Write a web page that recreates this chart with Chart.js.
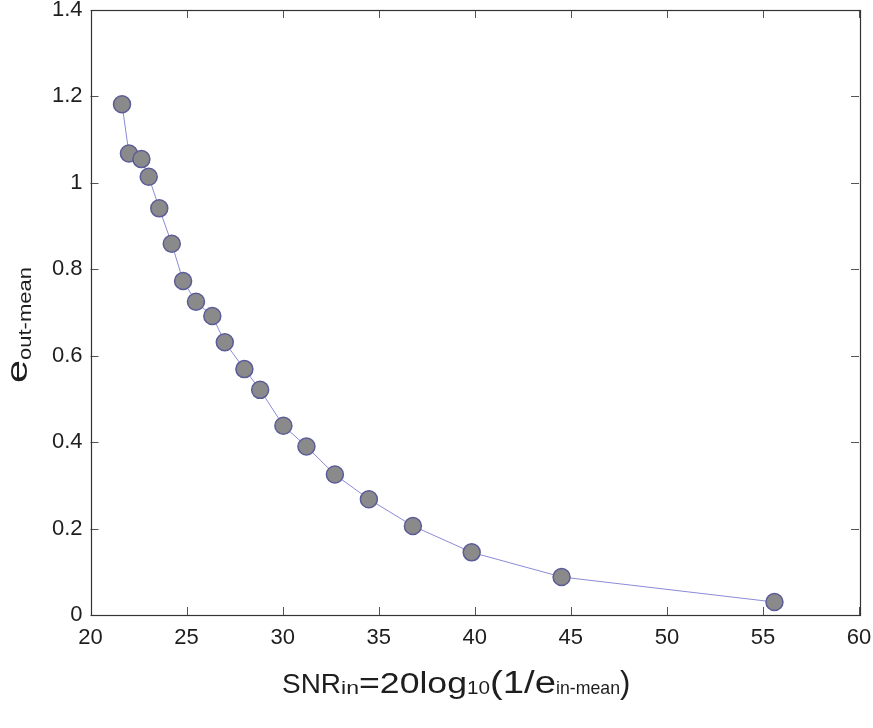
<!DOCTYPE html>
<html>
<head>
<meta charset="utf-8">
<script src="https://cdn.jsdelivr.net/npm/chart.js@4/dist/chart.umd.min.js"></script>
<style>
html,body{margin:0;padding:0;background:#fff;}
#c{display:block;}
</style>
</head>
<body>
<canvas id="c" width="873" height="728"></canvas>
<script>
// Data
const snrIn = [21.64, 22.0, 22.65, 23.03, 23.58, 24.23, 24.82, 25.49, 26.34, 26.99, 28.01, 28.83, 30.04, 31.24, 32.72, 34.49, 36.78, 39.84, 44.52, 55.6];
const eOutMean = [1.182, 1.068, 1.055, 1.014, 0.941, 0.859, 0.773, 0.725, 0.692, 0.631, 0.569, 0.521, 0.438, 0.390, 0.325, 0.268, 0.206, 0.145, 0.088, 0.030];
const xTickValues = [20, 25, 30, 35, 40, 45, 50, 55, 60];
const xTickLabels = ["20", "25", "30", "35", "40", "45", "50", "55", "60"];
const yTickValues = [0, 0.2, 0.4, 0.6, 0.8, 1, 1.2, 1.4];
const yTickLabels = ["0", "0.2", "0.4", "0.6", "0.8", "1", "1.2", "1.4"];

const FONT = '"Liberation Sans", Arial, Helvetica, sans-serif';
const TEXT = '#1e1e1e';

const points = snrIn.map((x, i) => ({x: x, y: eOutMean[i]}));

// Draw a run of text segments, each starting at a given offset; stretched ones are scaled horizontally to reach the next one
function drawRun(ctx, segs, endPos) {
  segs.forEach((s, i) => {
    ctx.font = s.size + 'px ' + FONT;
    const target = (i + 1 < segs.length ? segs[i + 1].pos : endPos) - s.pos;
    const nat = ctx.measureText(s.text).width;
    const k = s.stretch ? Math.min(s.maxK || 1.3, Math.max(0.85, target / nat)) : 1;
    ctx.save();
    ctx.translate(s.pos, s.dy || 0);
    ctx.scale(k, 1);
    ctx.fillText(s.text, 0, 0);
    ctx.restore();
  });
}

const framePlugin = {
  id: 'frame',
  beforeDatasetsDraw(chart) {
    const {ctx, chartArea: a, scales} = chart;
    ctx.save();
    ctx.strokeStyle = '#555';
    ctx.lineWidth = 1;
    const tl = 8;
    ctx.beginPath();
    xTickValues.forEach(v => {
      const px = Math.round(scales.x.getPixelForValue(v)) + 0.5;
      ctx.moveTo(px, a.bottom); ctx.lineTo(px, a.bottom - tl);
      ctx.moveTo(px, a.top); ctx.lineTo(px, a.top + tl);
    });
    yTickValues.forEach(v => {
      const py = Math.round(scales.y.getPixelForValue(v)) + 0.5;
      ctx.moveTo(a.left, py); ctx.lineTo(a.left + tl, py);
      ctx.moveTo(a.right, py); ctx.lineTo(a.right - tl, py);
    });
    ctx.stroke();
    ctx.strokeStyle = '#333';
    ctx.lineWidth = 1.2;
    ctx.strokeRect(Math.round(a.left) + 0.5, Math.round(a.top) + 0.5, Math.round(a.right - a.left), Math.round(a.bottom - a.top));
    ctx.restore();
  },
  afterDraw(chart) {
    const ctx = chart.ctx;
    ctx.save();
    ctx.fillStyle = TEXT;
    ctx.textBaseline = 'alphabetic';
    ctx.textAlign = 'left';
    // X title: SNR_in=20log_10(1/e_in-mean)
    ctx.save();
    ctx.translate(0, 693);
    drawRun(ctx, [
      {text: 'SNR', size: 28, pos: 282, stretch: true},
      {text: 'in', size: 19, pos: 341, dy: 1, stretch: true},
      {text: '=20log', size: 30, pos: 359, stretch: true},
      {text: '10', size: 19, pos: 467, dy: 1, stretch: true},
      {text: '(1/e', size: 31, pos: 490, stretch: true},
      {text: 'in-mean', size: 19, pos: 556, dy: 1, stretch: true},
      {text: ')', size: 31, pos: 620}
    ], 631);
    ctx.restore();
    // Y title: e_out-mean (rotated)
    ctx.translate(27, 0);
    ctx.rotate(-Math.PI / 2);
    drawRun(ctx, [
      {text: 'e', size: 30, pos: -383, stretch: true, maxK: 1.45},
      {text: 'out-mean', size: 19, pos: -360, dy: 4, stretch: true}
    ], -267);
    ctx.restore();
  }
};

new Chart(document.getElementById('c'), {
  type: 'scatter',
  data: {
    datasets: [{
      data: points,
      showLine: true,
      borderColor: '#8a8ad8',
      borderWidth: 1,
      pointRadius: 8.5,
      pointHoverRadius: 8.5,
      pointBackgroundColor: '#8a8a8a',
      pointBorderColor: '#5c5c98',
      pointBorderWidth: 1.5,
      tension: 0
    }]
  },
  options: {
    responsive: false,
    animation: false,
    events: [],
    layout: { padding: { left: 0, top: 9, right: 14, bottom: 0 } },
    plugins: { legend: { display: false }, tooltip: { enabled: false } },
    scales: {
      x: {
        type: 'linear', min: 20, max: 60,
        afterBuildTicks: s => { s.ticks = xTickValues.map(v => ({value: v})); },
        afterFit: s => { s.height = 113; s.paddingLeft = 0; s.paddingRight = 0; },
        grid: { display: false, drawTicks: false },
        border: { display: false },
        ticks: {
          padding: 10,
          color: TEXT,
          font: { family: FONT, size: 22 },
          maxRotation: 0,
          callback: (v) => { const i = xTickValues.indexOf(v); return i >= 0 ? xTickLabels[i] : ''; }
        }
      },
      y: {
        type: 'linear', min: 0, max: 1.4,
        afterBuildTicks: s => { s.ticks = yTickValues.map(v => ({value: v})); },
        afterFit: s => { s.width = 90.5; s.paddingTop = 0; s.paddingBottom = 0; },
        grid: { display: false, drawTicks: false },
        border: { display: false },
        ticks: {
          padding: 8,
          color: TEXT,
          font: { family: FONT, size: 22 },
          callback: (v) => { const i = yTickValues.findIndex(t => Math.abs(t - v) < 1e-9); return i >= 0 ? yTickLabels[i] : ''; }
        }
      }
    }
  },
  plugins: [framePlugin]
});
</script>
</body>
</html>
